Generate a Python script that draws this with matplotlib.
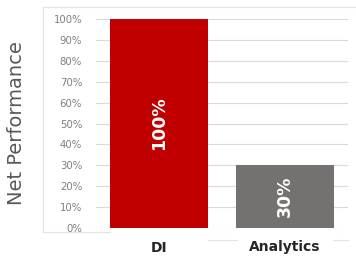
import matplotlib.pyplot as plt
from matplotlib.lines import Line2D

categories = ['DI', 'Analytics']
values = [100, 30]
bar_labels = ['100%', '30%']
colors = ['#C00000', '#767171']
ticks = list(range(0, 101, 10))

W, H = 356, 257
fig = plt.figure(figsize=(W / 100, H / 100), dpi=100)
ax = fig.add_axes([96 / W, 1 - 228 / H, (348 - 96) / W, (228 - 19) / H])

bars = ax.bar(categories, values, width=0.77, color=colors, zorder=3)
for b, lab in zip(bars, bar_labels):
    ax.text(b.get_x() + b.get_width() / 2, b.get_height() / 2, lab,
            rotation=90, ha='center', va='center', color='white',
            fontsize=12.5, fontweight='bold', zorder=4)

ax.set_xlim(-0.5, 1.5)
ax.set_ylim(0, 100)
ax.set_yticks(ticks)
ax.set_yticklabels([f'{t}%' for t in ticks], color='#7F7F7F', fontsize=7.3)
ax.yaxis.grid(True, color='#D9D9D9', linewidth=0.8, zorder=0)
ax.tick_params(axis='y', length=0, pad=10)
ax.tick_params(axis='x', length=0, pad=9)
for lab in ax.get_xticklabels():
    lab.set_fontweight('bold')
    lab.set_fontsize(10)
    lab.set_color('#262626')
for s in ax.spines.values():
    s.set_visible(False)

ax.set_ylabel('Net Performance', color='#595959', fontsize=14)
ax.yaxis.set_label_coords(-70 / (348 - 96), 0.5)

# light frame around the chart area
def fl(x0, y0, x1, y1):
    fig.add_artist(Line2D([x0 / W, x1 / W], [1 - y0 / H, 1 - y1 / H],
                          color='#E3E3E3', linewidth=0.8))

fl(43, 7, 355, 7)
fl(43, 7, 43, 232)
fl(43, 232, 110, 232)
fl(208, 240, 237, 240)
fl(333, 240, 348, 240)

fig.savefig('out.png', dpi=100)
